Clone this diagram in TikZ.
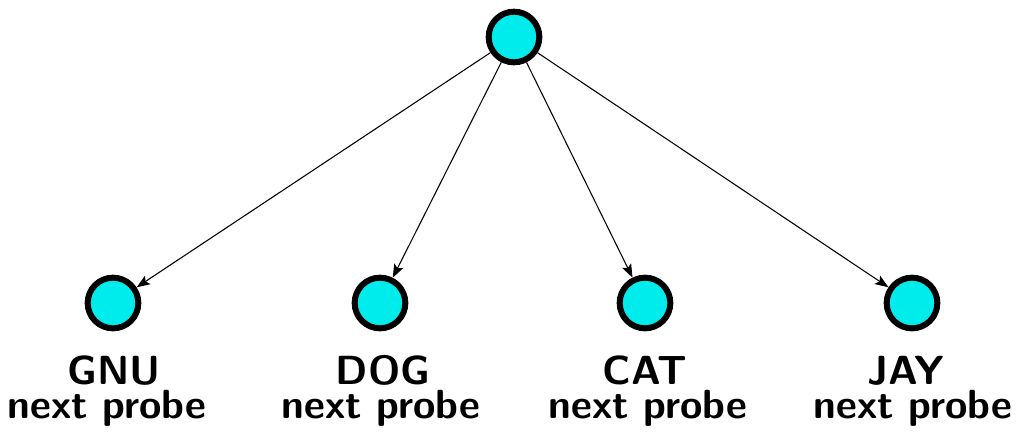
\documentclass[tikz,border=0pt]{standalone}
\usetikzlibrary{arrows.meta}
\definecolor{nodecyan}{RGB}{0,236,236}
\begin{document}
\begin{tikzpicture}[x=0.75pt,y=-0.75pt,
  vert/.style={circle,draw=black,fill=nodecyan,line width=4.5pt,minimum size=38pt,inner sep=0pt},
  edge/.style={line width=0.8pt,-{Stealth[length=10pt,width=7.5pt,inset=2pt]}},
  lbl/.style={font=\fontsize{30.5}{34}\sffamily\bfseries,inner sep=0pt,anchor=base,text height=19pt,text depth=0pt}]
\useasboundingbox (0,0) rectangle (1028,432);
\node[vert] (r) at (514,37) {};
\node[vert] (a) at (113,303) {};
\node[vert] (b) at (380,303) {};
\node[vert] (c) at (645,303) {};
\node[vert] (d) at (912,303) {};
\foreach \n in {a,b,c,d} \draw[edge] (r) -- (\n);
\node[lbl] (la) at (114,384) {GNU};
\node[lbl] (la2) at (107,418) {next probe};
\node[lbl] (lb) at (383,384) {DOG};
\node[lbl] (lb2) at (381,418) {next probe};
\node[lbl] (lc) at (645,384) {CAT};
\node[lbl] (lc2) at (648,418) {next probe};
\node[lbl] (ld) at (906,384) {JAY};
\node[lbl] (ld2) at (913,418) {next probe};
\end{tikzpicture}
\end{document}
